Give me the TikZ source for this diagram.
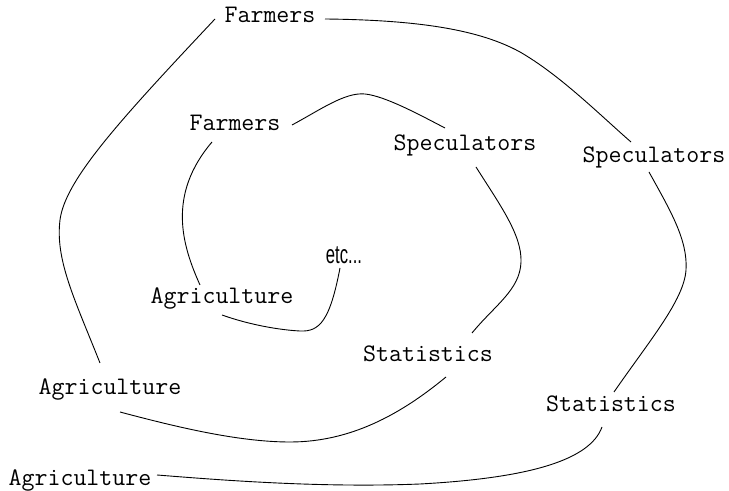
\documentclass[tikz,border=0pt]{standalone}
\usepackage{fontspec}
\newfontfamily\etcfont{Liberation Sans}
\usetikzlibrary{calc}
\tikzset{%
  font=\ttfamily,>=latex,
  w/.style={inner sep=0pt,anchor=base,font=\fontsize{12.6}{14}\selectfont\ttfamily},
  etcw/.style={inner sep=0pt,anchor=base,xscale=.64,font=\fontsize{13}{15}\selectfont\etcfont},
  sp/.style={draw,line width=.45pt}
}
\begin{document}
\begin{tikzpicture}[x=.5pt,y=-.5pt]
	\useasboundingbox (0,0) rectangle (729,491);
	% words of the spiral
	\node[w] (farmersOut) at (270,23) {Farmers};
	\node[w] (farmersIn) at (235,131) {Farmers};
	\node[w] (specIn) at (465,151) {Speculators};
	\node[w] (specOut) at (654,163) {Speculators};
	\node[etcw] (etc) at (344,264) {etc...};
	\node[w] (agriIn) at (222,304) {Agriculture};
	\node[w] (statIn) at (428,362) {Statistics};
	\node[w] (agriMid) at (110,395) {Agriculture};
	\node[w] (statOut) at (611,412) {Statistics};
	\node[w] (agriOut) at (80,486) {Agriculture};
	% the spiral, from the middle outwards
	\draw[sp] ([shift={(-4,4)}]etc.base) .. controls (330,320) and (320,332) .. (300,331)
		.. controls (280,330) and (250,325) .. ([shift={(0,11)}]agriIn.base);
	\draw[sp] ([shift={(-22,-19)}]agriIn.base) .. controls (182,245) and (167,195) .. ([shift={(-23,11)}]farmersIn.base);
	\draw[sp] ([shift={(57,-6)}]farmersIn.base) .. controls (320,110) and (345,92) .. (365,94)
		.. controls (385,96) and (420,115) .. ([shift={(-20,-23)}]specIn.base);
	\draw[sp] ([shift={(11,16)}]specIn.base) .. controls (500,205) and (522,235) .. (521,262)
		.. controls (520,290) and (495,305) .. ([shift={(44,-29)}]statIn.base);
	\draw[sp] ([shift={(18,15)}]statIn.base) .. controls (400,415) and (350,442) .. (290,442)
		.. controls (240,442) and (180,428) .. ([shift={(10,17)}]agriMid.base);
	\draw[sp] ([shift={(-10,-32)}]agriMid.base) .. controls (75,300) and (55,260) .. (60,220)
		.. controls (65,180) and (120,120) .. ([shift={(-55,-4)}]farmersOut.base);
	\draw[sp] ([shift={(55,-4)}]farmersOut.base) .. controls (420,20) and (480,30) .. (520,52)
		.. controls (560,75) and (600,115) .. ([shift={(-23,-21)}]specOut.base);
	\draw[sp] ([shift={(-5,9)}]specOut.base) .. controls (670,210) and (688,240) .. (686,270)
		.. controls (684,300) and (650,340) .. ([shift={(3,-20)}]statOut.base);
	\draw[sp] ([shift={(-9,15)}]statOut.base) .. controls (590,460) and (530,478) .. (420,484)
		.. controls (320,488) and (220,480) .. ([shift={(77,-11)}]agriOut.base);
\end{tikzpicture}
\end{document}
